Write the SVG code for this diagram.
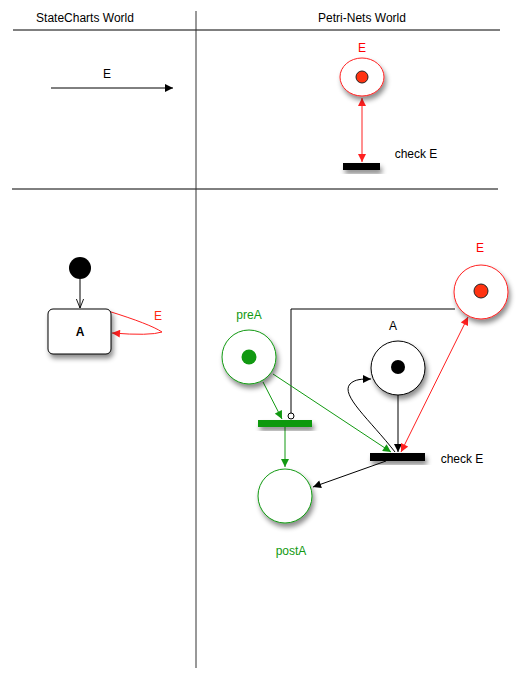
<svg xmlns="http://www.w3.org/2000/svg" width="528" height="680" viewBox="0 0 528 680">
<defs>
<style>
text{font-family:"Liberation Sans",Arial,sans-serif;font-size:12px;text-anchor:middle}
.ln{fill:none;stroke:#000;stroke-width:1}
.rl{fill:none;stroke:#ff2020;stroke-width:1}
.gl{fill:none;stroke:#119911;stroke-width:1}
</style>
<filter id="sh" x="-50%" y="-50%" width="200%" height="200%">
<feDropShadow dx="2" dy="4" stdDeviation="2.5" flood-color="#000" flood-opacity="0.45"/>
</filter>
<marker id="ab" viewBox="0 0 10 10" refX="10" refY="5" markerWidth="10" markerHeight="8" orient="auto-start-reverse" markerUnits="userSpaceOnUse"><path d="M0,0L10,5L0,10z" fill="#000"/></marker>
<marker id="ar" viewBox="0 0 10 10" refX="10" refY="5" markerWidth="10" markerHeight="8" orient="auto-start-reverse" markerUnits="userSpaceOnUse"><path d="M0,0L10,5L0,10z" fill="#ff2020"/></marker>
<marker id="ag" viewBox="0 0 10 10" refX="10" refY="5" markerWidth="10" markerHeight="8" orient="auto-start-reverse" markerUnits="userSpaceOnUse"><path d="M0,0L10,5L0,10z" fill="#119911"/></marker>
<marker id="ao" viewBox="0 0 10 10" refX="10" refY="5" markerWidth="9" markerHeight="9" orient="auto" markerUnits="userSpaceOnUse"><path d="M0,1L10,5L0,9" fill="none" stroke="#000"/></marker>
</defs>
<rect width="528" height="680" fill="#fff"/>
<g id="frame" class="ln">
<line x1="13" y1="30" x2="500" y2="30"/>
<line x1="12" y1="189" x2="498" y2="189"/>
<line x1="196" y1="11" x2="196" y2="668" stroke="#333"/>
</g>
<g id="headers">
<text x="85" y="22">StateCharts World</text>
<text x="362" y="22">Petri-Nets World</text>
</g>
<g id="connectors">
<line class="ln" x1="51" y1="88" x2="173" y2="88" marker-end="url(#ab)"/>
<text x="107" y="78">E</text>
<line class="rl" x1="362" y1="98" x2="362" y2="162" marker-start="url(#ar)" marker-end="url(#ar)"/>
<line class="ln" x1="80" y1="279" x2="80" y2="308" marker-end="url(#ao)"/>
<path class="rl" d="M108,311 Q150,324 162,332 Q150,336 112,333" marker-end="url(#ar)"/>
<text fill="#ff2a10" x="158" y="320">E</text>
<polyline class="ln" points="455,309 291,309 291,413"/>
<circle cx="291" cy="416" r="3" fill="#fff" stroke="#000"/>
<line class="gl" x1="263" y1="382" x2="282" y2="419" marker-end="url(#ag)"/>
<line class="gl" x1="273" y1="374" x2="391" y2="452" marker-end="url(#ag)"/>
<line class="gl" x1="285" y1="427" x2="285" y2="467" marker-end="url(#ag)"/>
<line class="ln" x1="398" y1="395" x2="398" y2="452" marker-end="url(#ab)"/>
<line class="rl" x1="401" y1="452" x2="468" y2="317" marker-start="url(#ar)" marker-end="url(#ar)"/>
<path class="ln" d="M395,452 C370,420 340,395 350,384 C355,379 362,379 371,379" marker-end="url(#ab)"/>
<line class="ln" x1="386" y1="461" x2="313" y2="487" marker-end="url(#ab)"/>
</g>
<g id="placeE1">
<ellipse cx="362" cy="77" rx="22" ry="19" fill="#fff" stroke="#ff2020" filter="url(#sh)"/>
<circle cx="362" cy="77" r="6" fill="#ff3311" stroke="#222"/>
<text fill="#ff0000" x="362" y="52">E</text>
</g>
<g id="transCheckE1">
<rect x="343" y="163" width="37" height="7" fill="#000" filter="url(#sh)"/>
<text x="416" y="158">check E</text>
</g>
<g id="initial">
<circle cx="80" cy="268" r="11" fill="#000"/>
</g>
<g id="stateA">
<rect x="48" y="309" width="63" height="45" rx="5" fill="#fff" stroke="#000" filter="url(#sh)"/>
<text x="80" y="336" font-weight="bold" font-size="11">A</text>
</g>
<g id="placeE2">
<circle cx="481" cy="292" r="27" fill="#fff" stroke="#ff2020" filter="url(#sh)"/>
<circle cx="481" cy="291" r="7" fill="#ff3311" stroke="#222"/>
<text fill="#ff0000" x="480" y="252">E</text>
</g>
<g id="placePreA">
<circle cx="249" cy="357" r="27" fill="#fff" stroke="#119911" filter="url(#sh)"/>
<circle cx="249" cy="357" r="7.5" fill="#119911"/>
<text fill="#119911" x="249" y="319">preA</text>
</g>
<g id="placeA">
<circle cx="398" cy="368" r="27" fill="#fff" stroke="#000" filter="url(#sh)"/>
<circle cx="398" cy="367" r="7" fill="#000"/>
<text x="393" y="330">A</text>
</g>
<g id="transGreen">
<rect x="258" y="420" width="54" height="7" fill="#119911" filter="url(#sh)"/>
</g>
<g id="transCheckE2">
<rect x="370" y="453" width="55" height="8" fill="#000" filter="url(#sh)"/>
<text x="462" y="463">check E</text>
</g>
<g id="placePostA">
<circle cx="285" cy="496" r="27" fill="#fff" stroke="#119911" filter="url(#sh)"/>
<text fill="#119911" x="291" y="555">postA</text>
</g>
</svg>
